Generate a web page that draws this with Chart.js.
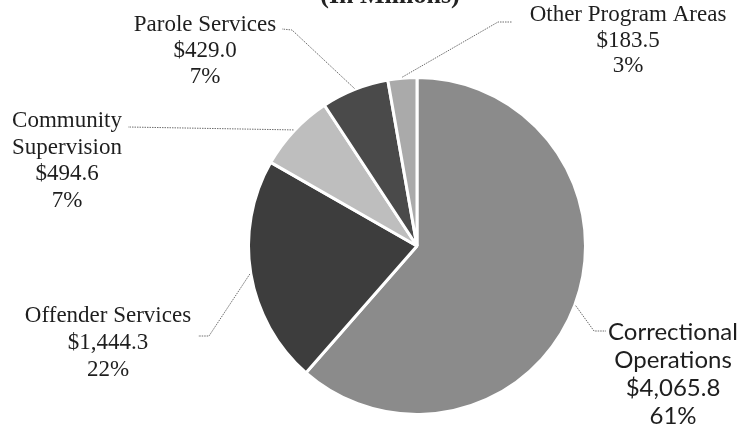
<!DOCTYPE html>
<html>
<head>
<meta charset="utf-8">
<script src="https://cdn.jsdelivr.net/npm/chart.js@4"></script>
<style>
  html, body { margin: 0; padding: 0; background: #fff; }
  #wrap { width: 738px; height: 435px; }
</style>
</head>
<body>
<div id="wrap"><canvas id="chartAreas" width="738" height="435"></canvas></div>
<script>
// ----------------------------------------------------------
// Datos: áreas de programa, en el sentido de las agujas
// del reloj desde arriba (millones de dólares)
// ----------------------------------------------------------
const areaNames  = ['Correctional Operations', 'Offender Services', 'Community Supervision', 'Parole Services', 'Other Program Areas'];
const areaLines  = [['Correctional', 'Operations'], ['Offender Services'], ['Community', 'Supervision'], ['Parole Services'], ['Other Program Areas']];
const millions   = [4065.8, 1444.3, 494.6, 429.0, 183.5];
const percents   = [61, 22, 7, 7, 3];
const titleText  = '(In Millions)';

const grays = ['#8b8b8b', '#3d3d3d', '#bebebe', '#4a4a4a', '#aaaaaa'];

// ----------------------------------------------------------
// Posición de cada etiqueta (centro x, primera línea base y)
// y los codos de la línea guía, desde el borde hacia el texto
// ----------------------------------------------------------
const serif = '23px "Liberation Serif", "Times New Roman", serif';
const sans  = '24px Lato, "Open Sans", sans-serif';
const labelLayout = [
    { x: 673, y: 340, lh: 28, font: sans,  leader: [[594, 331], [606, 331]] },
    { x: 108, y: 322, lh: 27, font: serif, leader: [[209, 336], [198, 336]] },
    { x: 67,  y: 127, lh: 26.5, font: serif, leader: [[128, 127]] },
    { x: 205, y: 31,  lh: 26, font: serif, leader: [[292, 30], [282, 29]] },
    { x: 628, y: 21,  lh: 25.5, font: serif, leader: [[498, 22], [512, 22]] }
];

const money = v => '$' + v.toLocaleString('en-US', { minimumFractionDigits: 1, maximumFractionDigits: 1 });

const sliceLabels = {
    id: 'sliceLabels',
    afterDraw(chart) {
        const ctx = chart.ctx;
        const arcs = chart.getDatasetMeta(0).data;
        ctx.save();

        // título, cortado por el borde superior
        ctx.fillStyle = '#222';
        ctx.font = 'bold 26px "Liberation Serif", serif';
        ctx.textAlign = 'center';
        ctx.textBaseline = 'alphabetic';
        ctx.fillText(titleText, 390, 3);

        arcs.forEach((arc, i) => {
            const L = labelLayout[i];
            const mid = (arc.startAngle + arc.endAngle) / 2;
            const r = arc.outerRadius + 1;
            const px = arc.x + Math.cos(mid) * r;
            const py = arc.y + Math.sin(mid) * r;

            // línea guía punteada
            ctx.strokeStyle = '#6e6e6e';
            ctx.lineWidth = 1;
            ctx.setLineDash([1.5, 1]);
            ctx.beginPath();
            ctx.moveTo(px, py);
            L.leader.forEach(p => ctx.lineTo(p[0], p[1]));
            ctx.stroke();
            ctx.setLineDash([]);

            // texto: nombre, monto y porcentaje
            const lines = areaLines[i].concat([money(millions[i]), percents[i] + '%']);
            ctx.fillStyle = '#1e1e1e';
            ctx.font = L.font;
            ctx.textAlign = 'center';
            lines.forEach((t, k) => ctx.fillText(t, L.x, L.y + k * L.lh));
        });
        ctx.restore();
    }
};

new Chart(document.getElementById('chartAreas'), {
    type: 'pie',
    data: {
        labels: areaNames,
        datasets: [{
            data: millions,
            backgroundColor: grays,
            borderColor: '#ffffff',
            borderWidth: 3
        }]
    },
    options: {
        responsive: false,
        animation: false,
        devicePixelRatio: 1,
        layout: { padding: { left: 247, right: 151, top: 76, bottom: 19 } },
        plugins: {
            legend: { display: false },
            tooltip: { enabled: false }
        }
    },
    plugins: [sliceLabels]
});
</script>
</body>
</html>
